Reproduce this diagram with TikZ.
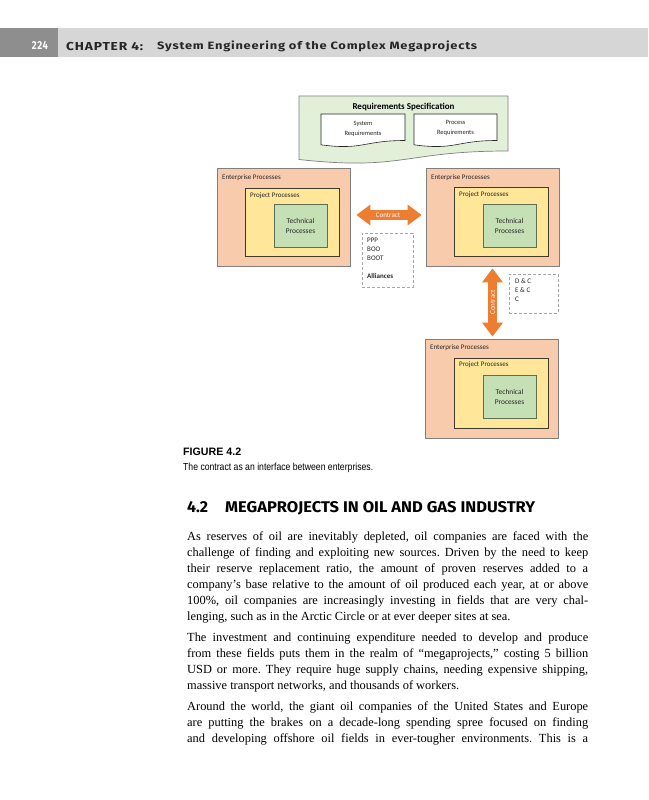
\documentclass[tikz,border=0pt]{standalone}
\usepackage{fontspec}
\usepackage{graphicx}
\setmainfont{Liberation Serif}
\newfontfamily\calib{Carlito}
\newfontfamily\hdrfont{Fira Sans}[LetterSpace=6]
\newfontfamily\headfont{Fira Sans}
\newfontfamily\capfont{Liberation Sans}
\usetikzlibrary{arrows.meta}
\frenchspacing
\definecolor{hdrdark}{HTML}{8E8E8E}
\definecolor{hdrlight}{HTML}{D6D6D6}
\definecolor{hdrtext}{HTML}{262626}
\definecolor{reqgreen}{HTML}{E2EFD9}
\definecolor{entfill}{HTML}{F8CBAD}
\definecolor{projfill}{HTML}{FFE699}
\definecolor{techfill}{HTML}{C5E0B4}
\definecolor{orangeA}{HTML}{ED7D31}
\definecolor{dashgray}{HTML}{A6A6A6}
\definecolor{bordgray}{HTML}{7F7F7F}
\definecolor{projborder}{HTML}{3F3A2A}
\definecolor{techborder}{HTML}{5E6E50}
\definecolor{dtext}{HTML}{262626}
\begin{document}
\begin{tikzpicture}[x=1pt,y=-1pt,
  reqbox/.style={draw=bordgray, fill=reqgreen, line width=0.7pt},
  docbox/.style={draw=dtext, fill=white, line width=0.6pt},
  ent/.style={draw=bordgray, fill=entfill, line width=0.8pt, minimum width=133pt, minimum height=98pt, inner sep=0pt},
  proj/.style={draw=projborder, fill=projfill, line width=0.8pt, minimum width=94pt, inner sep=0pt},
  tech/.style={draw=techborder, fill=techfill, line width=0.8pt, minimum width=53pt, minimum height=43pt, inner sep=0pt, align=center, text=dtext, font=\calib\fontsize{7.4}{10}\selectfont},
  lbl/.style={anchor=west, inner sep=0pt, text=dtext, font=\calib\fontsize{7}{8}\selectfont},
  small/.style={anchor=base west, inner sep=0pt, text=dtext, font=\calib\fontsize{7}{8}\selectfont},
  dashbox/.style={draw=dashgray, dashed, dash pattern=on 3pt off 2pt, line width=0.6pt, fill=white, inner sep=0pt},
  contractarrow/.style={draw=orangeA, line width=9.5pt, {Triangle[length=14pt,width=20pt]}-{Triangle[length=14pt,width=20pt]}},
  arrtext/.style={text=white, inner sep=0pt, font=\calib\fontsize{7}{8}\selectfont},
  bodyline/.style={anchor=base west, inner sep=0pt, font=\fontsize{12.4}{16}\selectfont, text=black}
]
\useasboundingbox (0,0) rectangle (648,800);
\fill[white] (0,0) rectangle (648,800);

% ---------- running header ----------
\fill[hdrlight] (0,28) rectangle (648,57);
\fill[hdrdark] (0,28) rectangle (58,57);
\node[anchor=base, inner sep=0pt, text=white] (pgnum) at (40,50) {\resizebox{16pt}{8pt}{\hdrfont\bfseries 224}};
\node[anchor=base west, inner sep=0pt, text=hdrtext] (chap) at (66,50) {\resizebox{77pt}{8.2pt}{\hdrfont\bfseries CHAPTER 4:}};
\node[anchor=base west, inner sep=0pt, text=hdrtext] (chaptitle) at (157,50) {\resizebox{320pt}{8.6pt}{\hdrfont\bfseries System Engineering of the Complex Megaprojects}};

% ---------- requirements specification ----------
\draw[reqbox] (508,96) -- (508,151) .. controls (403.5,151) and (403.5,171) .. (299,159.5) -- (299,96) -- cycle;
\node[inner sep=0pt, text=black, font=\calib\bfseries\fontsize{9}{10}\selectfont] (rs) at (403.5,107) {Requirements Specification};
\draw[docbox] (405,114) -- (405,140.5) .. controls (363,140.5) and (363,150.5) .. (321,144.8) -- (321,114) -- cycle;
\node[inner sep=0pt, align=center, text=dtext, font=\calib\fontsize{6.5}{10}\selectfont] (sysreq) at (363,128.5) {System\\Requirements};
\draw[docbox] (497,114) -- (497,140.5) .. controls (455.5,140.5) and (455.5,150.5) .. (414,144.8) -- (414,114) -- cycle;
\node[inner sep=0pt, align=center, text=dtext, font=\calib\fontsize{6.5}{10}\selectfont] (procreq) at (455.5,128) {Process\\Requirements};

% ---------- enterprise 1 ----------
\node[ent] (e1) at (283.5,217) {};
\node[proj, minimum height=68pt] (p1) at (292,222) {};
\node[tech] (t1) at (300.5,225.5) {Technical\\Processes};
\node[lbl] (e1l) at (222,178) {Enterprise Processes};
\node[lbl] (p1l) at (250,195.5) {Project Processes};

% ---------- enterprise 2 ----------
\node[ent] (e2) at (492.5,217) {};
\node[proj, minimum height=69pt] (p2) at (501,221.5) {};
\node[tech] (t2) at (509.5,225.5) {Technical\\Processes};
\node[lbl] (e2l) at (431,178) {Enterprise Processes};
\node[lbl] (p2l) at (459,195) {Project Processes};

% ---------- enterprise 3 ----------
\node[ent, minimum height=99pt] (e3) at (491.5,388.5) {};
\node[proj, minimum height=70pt] (p3) at (501,393) {};
\node[tech] (t3) at (509.5,396.5) {Technical\\Processes};
\node[lbl] (e3l) at (430,348) {Enterprise Processes};
\node[lbl] (p3l) at (459,365) {Project Processes};

% ---------- contract arrows ----------
\draw[contractarrow, shorten <=6pt, shorten >=4pt] ([yshift=2pt]e1.east) -- ([yshift=2pt]e2.west)
  node[arrtext, midway] (c1) {Contract};
\draw[contractarrow, shorten <=2pt, shorten >=2pt] (e2.south) -- (e2.south |- e3.north)
  node[arrtext, midway, rotate=90] (c2) {Contract};

% ---------- dashed boxes ----------
\node[dashbox, minimum width=51pt, minimum height=54pt] (db1) at (387.5,260) {};
\node[small] (ppp) at (367,242.5) {PPP};
\node[small] (boo) at (367,251.5) {BOO};
\node[small] (boot) at (367,260.5) {BOOT};
\node[small, font=\calib\bfseries\fontsize{7}{8}\selectfont] (all) at (367,278.5) {Alliances};

\node[dashbox, minimum width=49pt, minimum height=39pt] (db2) at (533.5,293.5) {};
\node[small] (dc) at (515,283.5) {D \& C};
\node[small] (ec) at (515,292.5) {E \& C};
\node[small] (cc) at (515,301.5) {C};

% ---------- caption ----------
\node[anchor=base west, inner sep=0pt, text=black] (fig) at (183,455) {\resizebox{58pt}{7.5pt}{\capfont\bfseries FIGURE 4.2}};
\node[anchor=base west, inner sep=0pt, text=black] (cap) at (183,470) {\resizebox{190pt}{7.4pt}{\capfont The contract as an interface between enterprises.}};

% ---------- section heading ----------
\node[anchor=base west, inner sep=0pt, text=black] (secno) at (187,512) {\resizebox{21pt}{11pt}{\headfont\bfseries 4.2}};
\node[anchor=base west, inner sep=0pt, text=black] (sectitle) at (225,512) {\resizebox{310pt}{11pt}{\headfont\bfseries MEGAPROJECTS IN OIL AND GAS INDUSTRY}};

% ---------- body text ----------
\node[bodyline] (l1) at (187,540) {\makebox[401pt][s]{As reserves of oil are inevitably depleted, oil companies are faced with the}};
\node[bodyline] (l2) at (187,556) {\makebox[401pt][s]{challenge of finding and exploiting new sources. Driven by the need to keep}};
\node[bodyline] (l3) at (187,572) {\makebox[401pt][s]{their reserve replacement ratio, the amount of proven reserves added to a}};
\node[bodyline] (l4) at (187,588) {\makebox[401pt][s]{company’s base relative to the amount of oil produced each year, at or above}};
\node[bodyline] (l5) at (187,604) {\makebox[401pt][s]{100\%, oil companies are increasingly investing in fields that are very chal-}};
\node[bodyline] (l6) at (187,620) {lenging, such as in the Arctic Circle or at ever deeper sites at sea.};

\node[bodyline] (l7) at (187,641) {\makebox[401pt][s]{The investment and continuing expenditure needed to develop and produce}};
\node[bodyline] (l8) at (187,657) {\makebox[401pt][s]{from these fields puts them in the realm of “megaprojects,” costing 5 billion}};
\node[bodyline] (l9) at (187,673) {\makebox[401pt][s]{USD or more. They require huge supply chains, needing expensive shipping,}};
\node[bodyline] (l10) at (187,689) {massive transport networks, and thousands of workers.};

\node[bodyline] (l11) at (187,710) {\makebox[401pt][s]{Around the world, the giant oil companies of the United States and Europe}};
\node[bodyline] (l12) at (187,726) {\makebox[401pt][s]{are putting the brakes on a decade-long spending spree focused on finding}};
\node[bodyline] (l13) at (187,742) {\makebox[401pt][s]{and developing offshore oil fields in ever-tougher environments. This is a}};
\end{tikzpicture}
\end{document}
